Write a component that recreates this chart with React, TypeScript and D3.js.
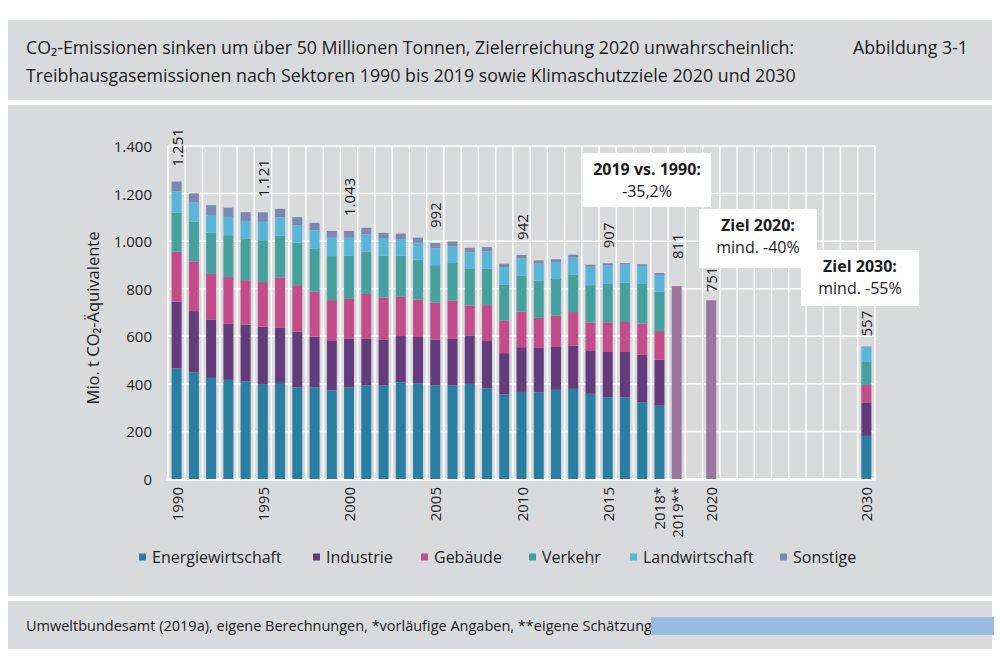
import React from "react";
import * as d3 from "d3";

// slots on the x axis (blank slots keep the gap before 2020 and before 2030)
const slots = [
  "1990", "1991", "1992", "1993", "1994", "1995", "1996", "1997", "1998", "1999",
  "2000", "2001", "2002", "2003", "2004", "2005", "2006", "2007", "2008", "2009",
  "2010", "2011", "2012", "2013", "2014", "2015", "2016", "2017", "2018", "2019",
  "g1", "2020", "g2", "g3", "g4", "g5", "g6", "g7", "g8", "g9", "2030",
];

// sector emissions 1990-2018, Mio. t CO2-Äq.
const histYears = [
  "1990", "1991", "1992", "1993", "1994", "1995", "1996", "1997", "1998", "1999",
  "2000", "2001", "2002", "2003", "2004", "2005", "2006", "2007", "2008", "2009",
  "2010", "2011", "2012", "2013", "2014", "2015", "2016", "2017", "2018",
];
const energie = [464, 449, 425, 417, 410, 399, 404, 385, 385, 373, 385, 394, 394, 407, 403, 394, 394, 400, 382, 355, 366, 364, 375, 379, 358, 344, 343, 323, 308];
const industrie = [281, 257, 246, 235, 239, 242, 231, 235, 214, 207, 205, 195, 193, 194, 194, 192, 195, 204, 198, 174, 188, 187, 180, 182, 180, 190, 191, 199, 194];
const gebaeude = [210, 209, 191, 197, 187, 187, 213, 195, 188, 172, 167, 189, 175, 165, 157, 155, 162, 126, 151, 138, 149, 127, 132, 141, 119, 125, 126, 131, 120];
const verkehr = [164, 166, 173, 176, 174, 176, 174, 178, 182, 185, 181, 177, 176, 172, 168, 158, 157, 153, 153, 151, 153, 156, 154, 158, 158, 161, 165, 167, 165];
const landwirtschaft = [91, 81, 75, 77, 75, 77, 79, 74, 76, 77, 76, 74, 72, 70, 71, 70, 70, 71, 73, 73, 71, 72, 71, 71, 77, 77, 76, 76, 71];
const sonstige = [41, 39, 41, 39, 37, 40, 35, 34, 32, 29, 29, 27, 25, 24, 22, 23, 21, 18, 18, 14, 15, 13, 12, 12, 9, 10, 7, 7, 8];

// Klimaschutzziel 2030 by sector (same order as sectors)
const ziel2030 = [181, 141, 73, 97, 61, 4];

// totals only (estimate 2019, target 2020)
const totalOnlyYears = ["2019", "2020"];
const totalOnly = [811, 751];

const sectors = ["Energiewirtschaft", "Industrie", "Gebäude", "Verkehr", "Landwirtschaft", "Sonstige"];
const sectorColors = ["#2a7ea2", "#643c7b", "#c24d8a", "#46a09d", "#59b6d8", "#7b89b1"];
const totalOnlyColor = "#9b76a0";

const labelledYears = ["1990", "1995", "2000", "2005", "2010", "2015", "2019", "2020", "2030"];
const tickLabels: Record<string, string> = {
  "1990": "1990", "1995": "1995", "2000": "2000", "2005": "2005", "2010": "2010",
  "2015": "2015", "2018": "2018*", "2019": "2019**", "2020": "2020", "2030": "2030",
};
const yTicks = [0, 200, 400, 600, 800, 1000, 1200, 1400];

// layout bits
const labelGap: Record<string, number> = { "2019": 27, "2020": 8, "2030": 10 };
const boxes = [
  { title: "2019 vs. 1990:", value: "-35,2%", x: 583, y: 153, w: 128, h: 54 },
  { title: "Ziel 2020:", value: "mind. -40%", x: 699, y: 209, w: 118, h: 59 },
  { title: "Ziel 2030:", value: "mind. -55%", x: 801, y: 250, w: 118, h: 56 },
];
const legendX = [139, 313, 421, 529, 630, 780];

const de = d3.formatLocale({ decimal: ",", thousands: ".", grouping: [3], currency: ["", " €"] });
const fmt = de.format(",d");

const FONT = "'Open Sans', 'DejaVu Sans', sans-serif";
const PANEL = "#d9dadc";
const TEXT = "#1c1c1c";

export default function App() {
  const x = d3.scaleBand<string>().domain(slots).range([168, 875]).paddingInner(0.42).paddingOuter(0.21);
  const y = d3.scaleLinear().domain([0, 1400]).range([479, 146]);
  const gap = (x.step() - x.bandwidth()) / 2;

  const sectorArrays = [energie, industrie, gebaeude, verkehr, landwirtschaft, sonstige];
  const rows = histYears.map((yr, i) => {
    const r: any = { year: yr };
    sectors.forEach((s, k) => (r[s] = sectorArrays[k][i]));
    return r;
  });
  const r2030: any = { year: "2030" };
  sectors.forEach((s, k) => (r2030[s] = ziel2030[k]));
  rows.push(r2030);

  const series = d3.stack<any>().keys(sectors)(rows);

  const totals: Record<string, number> = {};
  rows.forEach((r) => (totals[r.year] = d3.sum(sectors, (s) => r[s])));
  totalOnlyYears.forEach((yr, i) => (totals[yr] = totalOnly[i]));

  return (
    <svg width={1000} height={666} style={{ position: "absolute", left: 0, top: 0, background: "#fff" }} fontFamily={FONT}>
      {/* panels */}
      <rect x={8} y={20} width={984} height={80} fill={PANEL} />
      <rect x={8} y={105} width={984} height={491} fill={PANEL} />
      <rect x={8} y={601} width={984} height={48} fill={PANEL} />

      {/* title */}
      <text x={26} y={54} fontSize={17.8} fill={TEXT}>
        CO₂-Emissionen sinken um über 50 Millionen Tonnen, Zielerreichung 2020 unwahrscheinlich:
      </text>
      <text x={968} y={54} fontSize={17.8} fill={TEXT} textAnchor="end">Abbildung 3-1</text>
      <text x={26} y={82} fontSize={17.8} fill={TEXT}>
        Treibhausgasemissionen nach Sektoren 1990 bis 2019 sowie Klimaschutzziele 2020 und 2030
      </text>

      {/* grid */}
      <g stroke="#fff" strokeWidth={1.5}>
        {yTicks.map((t) => (
          <line key={"h" + t} x1={168} x2={875} y1={y(t)} y2={y(t)} />
        ))}
        {slots.map((s) => (
          <line key={"v" + s} x1={(x(s) ?? 0) - gap} x2={(x(s) ?? 0) - gap} y1={146} y2={479} />
        ))}
        <line x1={875} x2={875} y1={146} y2={479} />
        <line x1={166} x2={876} y1={y(0) + 0.5} y2={y(0) + 0.5} strokeWidth={2.5} />
      </g>

      {/* stacked bars */}
      {series.map((ser, k) => (
        <g key={ser.key} fill={sectorColors[k]}>
          {ser.map((d) => (
            <rect
              key={d.data.year}
              x={x(d.data.year)}
              width={x.bandwidth()}
              y={y(d[1])}
              height={Math.max(0, y(d[0]) - y(d[1]))}
            />
          ))}
        </g>
      ))}
      {/* total-only bars */}
      {totalOnlyYears.map((yr, i) => (
        <rect key={yr} x={x(yr)} width={x.bandwidth()} y={y(totalOnly[i])} height={y(0) - y(totalOnly[i])} fill={totalOnlyColor} />
      ))}

      {/* annotation boxes */}
      {boxes.map((b) => (
        <g key={b.title}>
          <rect x={b.x} y={b.y} width={b.w} height={b.h} fill="#fff" />
          <text x={b.x + b.w / 2} y={b.y + 22} fontSize={16} fontWeight="bold" fill={TEXT} textAnchor="middle">
            {b.title}
          </text>
          <text x={b.x + b.w / 2} y={b.y + 44} fontSize={16} fill={TEXT} textAnchor="middle">
            {b.value}
          </text>
        </g>
      ))}

      {/* value labels */}
      {labelledYears.map((yr) => {
        const cx = (x(yr) ?? 0) + x.bandwidth() / 2;
        const ty = y(totals[yr]) - (labelGap[yr] ?? 15);
        return (
          <text key={"l" + yr} transform={`translate(${cx},${ty}) rotate(-90)`} fontSize={15} fill={TEXT} dominantBaseline="central">
            {fmt(totals[yr])}
          </text>
        );
      })}

      {/* y axis */}
      {yTicks.map((t) => (
        <text key={"yt" + t} x={152} y={y(t)} fontSize={15} fill={TEXT} textAnchor="end" dominantBaseline="central">
          {fmt(t)}
        </text>
      ))}
      <text transform={`translate(92,318) rotate(-90)`} fontSize={16.5} fill={TEXT} textAnchor="middle" dominantBaseline="central">
        Mio. t CO₂-Äquivalente
      </text>

      {/* x axis */}
      {Object.keys(tickLabels).map((k) => {
        const cx = (x(k) ?? 0) + x.bandwidth() / 2;
        return (
          <text key={"xt" + k} transform={`translate(${cx},487) rotate(-90)`} fontSize={15} fill={TEXT} textAnchor="end" dominantBaseline="central">
            {tickLabels[k]}
          </text>
        );
      })}

      {/* legend */}
      {sectors.map((s, k) => (
        <g key={"lg" + s} transform={`translate(${legendX[k]},557)`}>
          <rect x={0} y={-3.5} width={7} height={7} fill={sectorColors[k]} />
          <text x={13} y={0} fontSize={16} fill={TEXT} dominantBaseline="central">{s}</text>
        </g>
      ))}

      {/* footer */}
      <text x={26} y={631} fontSize={14.5} fill={TEXT}>
        Umweltbundesamt (2019a), eigene Berechnungen, *vorläufige Angaben, **eigene Schätzung
      </text>
      <rect x={651} y={617} width={343} height={18} fill="#97bbe0" />
    </svg>
  );
}
